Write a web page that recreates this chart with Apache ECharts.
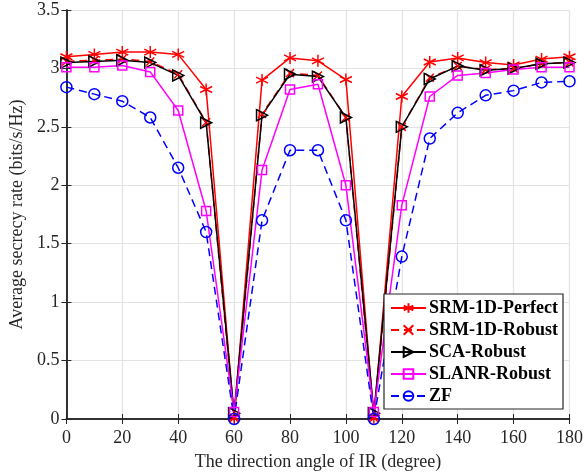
<!DOCTYPE html>
<html>
<head>
<meta charset="utf-8">
<script src="https://cdn.jsdelivr.net/npm/echarts@6/dist/echarts.min.js"></script>
<style>
  html, body { margin: 0; padding: 0; background: #fff; }
  #chart { width: 586px; height: 476px; }
</style>
</head>
<body>
<div id="chart"></div>
<script>
// angle of IR (degree)
var angles = [0, 10, 20, 30, 40, 50, 60, 70, 80, 90, 100, 110, 120, 130, 140, 150, 160, 170, 180];

var srmPerfect = [3.10, 3.12, 3.14, 3.14, 3.12, 2.82, 0.01, 2.90, 3.09, 3.065, 2.905, 0.01, 2.76, 3.055, 3.09, 3.05, 3.03, 3.08, 3.10];
var srmRobust  = [3.06, 3.07, 3.08, 3.06, 2.95, 2.54, 0.01, 2.61, 2.96, 2.94, 2.58, 0.01, 2.50, 2.92, 3.02, 2.99, 3.00, 3.04, 3.05];
var scaRobust  = [3.05, 3.06, 3.07, 3.05, 2.94, 2.535, 0.05, 2.60, 2.95, 2.93, 2.58, 0.05, 2.50, 2.91, 3.02, 2.985, 3.00, 3.04, 3.05];
var slanrRobust = [3.01, 3.01, 3.025, 2.97, 2.64, 1.78, 0.06, 2.13, 2.82, 2.865, 2.00, 0.06, 1.83, 2.76, 2.94, 2.96, 2.99, 3.01, 3.01];
var zf = [2.84, 2.78, 2.72, 2.58, 2.15, 1.60, 0.00, 1.70, 2.30, 2.30, 1.70, 0.00, 1.39, 2.40, 2.62, 2.77, 2.81, 2.88, 2.89];

var xTicks = { min: 0, max: 180, interval: 20 };
var yTicks = { min: 0, max: 3.5, interval: 0.5 };

var seriesNames = ['SRM-1D-Perfect', 'SRM-1D-Robust', 'SCA-Robust', 'SLANR-Robust', 'ZF'];

function pairs(ys) {
  return angles.map(function (a, i) { return [a, ys[i]]; });
}

var FONT = 'Liberation Serif';
var TXT = '#262626';

var chart = echarts.init(document.getElementById('chart'));

function mkSeries(name, ys, color, symbol, size, dashed) {
  return {
    name: name,
    type: 'line',
    data: pairs(ys),
    symbol: symbol,
    symbolSize: size,
    clip: false,
    animation: false,
    lineStyle: { color: color, width: 1.5, type: dashed ? [8, 5] : 'solid' },
    itemStyle: { color: 'rgba(0,0,0,0)', borderColor: color, borderWidth: 1.5 }
  };
}

chart.setOption({
  backgroundColor: '#fff',
  textStyle: { fontFamily: FONT },
  grid: { left: 59, right: 14, top: 10, bottom: 56 },
  legend: {
    data: seriesNames,
    orient: 'vertical',
    left: 384,
    top: 294,
    itemWidth: 35,
    itemHeight: 12,
    itemGap: 4,
    padding: [5, 5, 4, 6],
    backgroundColor: '#fff',
    borderColor: '#262626',
    borderWidth: 1.2,
    textStyle: { fontFamily: FONT, fontSize: 18, fontWeight: 'bold', color: '#000', padding: [0, 0, 0, -2] }
  },
  xAxis: [{
    type: 'value',
    min: xTicks.min, max: xTicks.max, interval: xTicks.interval,
    name: 'The direction angle of IR (degree)',
    nameLocation: 'middle',
    nameGap: 34,
    nameTextStyle: { fontFamily: FONT, fontSize: 18, color: TXT },
    axisLine: { lineStyle: { color: TXT, width: 1.5 } },
    axisTick: { inside: true, length: 5, lineStyle: { color: TXT } },
    axisLabel: { fontFamily: FONT, fontSize: 18, color: TXT, margin: 10 },
    splitLine: { show: true, lineStyle: { color: '#e3e3e3', width: 1.2 } }
  }, {
    type: 'value', position: 'top',
    min: xTicks.min, max: xTicks.max, interval: xTicks.interval,
    axisLine: { show: true, lineStyle: { color: TXT, width: 1.5 } },
    axisTick: { inside: true, length: 5, lineStyle: { color: TXT } },
    axisLabel: { show: false },
    splitLine: { show: false }
  }],
  yAxis: [{
    type: 'value',
    min: yTicks.min, max: yTicks.max, interval: yTicks.interval,
    name: 'Average secrecy rate (bits/s/Hz)',
    nameLocation: 'middle',
    nameGap: 39,
    nameTextStyle: { fontFamily: FONT, fontSize: 18, color: TXT },
    axisLine: { show: true, lineStyle: { color: TXT, width: 1.5 } },
    axisTick: { show: true, inside: true, length: 5, lineStyle: { color: TXT } },
    axisLabel: { fontFamily: FONT, fontSize: 18, color: TXT, margin: 7 },
    splitLine: { show: true, lineStyle: { color: '#e3e3e3', width: 1.2 } }
  }, {
    type: 'value', position: 'right',
    min: yTicks.min, max: yTicks.max, interval: yTicks.interval,
    axisLine: { show: true, lineStyle: { color: TXT, width: 1.5 } },
    axisTick: { show: true, inside: true, length: 5, lineStyle: { color: TXT } },
    axisLabel: { show: false },
    splitLine: { show: false }
  }],
  series: [
    mkSeries(seriesNames[0], srmPerfect, '#ff0000',
      'path://M0,-10L0,10M-8.66,-5L8.66,5M-8.66,5L8.66,-5', 12, false),
    mkSeries(seriesNames[1], srmRobust, '#ff0000',
      'path://M-1,-1L1,1M-1,1L1,-1', 8, true),
    mkSeries(seriesNames[2], scaRobust, '#000000',
      'path://M0,0L10,5L0,10Z', 11, false),
    mkSeries(seriesNames[3], slanrRobust, '#ff00ff', 'rect', 9, false),
    mkSeries(seriesNames[4], zf, '#0000ff', 'circle', 11, true)
  ]
});
</script>
</body>
</html>
